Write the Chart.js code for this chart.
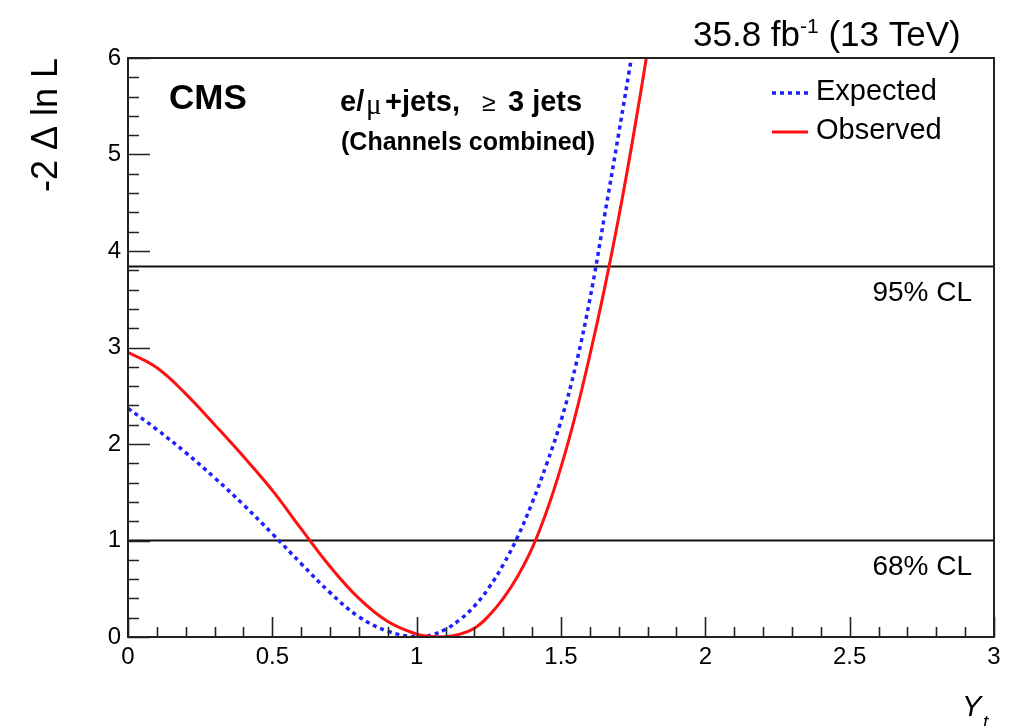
<!DOCTYPE html>
<html>
<head>
<meta charset="utf-8">
<script src="https://cdn.jsdelivr.net/npm/chart.js@4.4.1/dist/chart.umd.min.js"></script>
<style>
    html, body { margin: 0; padding: 0; background: #fff; }
    #wrap { width: 1009px; height: 726px; }
</style>
</head>
<body>
<div id="wrap"><canvas id="nllChart" width="1009" height="726"></canvas></div>
<script>
// Y_t scan, -2 Delta ln L
const yukawa = [0, 0.1, 0.2, 0.3, 0.4, 0.5, 0.6, 0.7, 0.8, 0.9, 1.0, 1.05, 1.1, 1.15, 1.2, 1.25,
    1.3, 1.35, 1.4, 1.45, 1.5, 1.55, 1.6, 1.65, 1.7, 1.75, 1.8];
const expected = [2.37, 2.15, 1.91, 1.65, 1.37, 1.07, 0.76, 0.46, 0.21, 0.06, 0.0, 0.02, 0.08, 0.18, 0.32, 0.51,
    0.75, 1.04, 1.39, 1.79, 2.24, 2.80, 3.50, 4.35, 5.22, 6.12, 7.1];
const observed = [2.95, 2.79, 2.52, 2.20, 1.87, 1.52, 1.12, 0.73, 0.40, 0.16, 0.03, 0.005, 0.003, 0.03, 0.09, 0.22,
    0.40, 0.63, 0.92, 1.30, 1.76, 2.30, 2.92, 3.60, 4.35, 5.18, 6.08];
const clLevels = [1.0, 3.84];
const clLabels = ["68% CL", "95% CL"];
const xTicks = [0, 0.5, 1, 1.5, 2, 2.5, 3];
const yTicks = [0, 1, 2, 3, 4, 5, 6];

const FONT = '"Liberation Sans", Arial, Helvetica, sans-serif';
const BLUE = "#1f1fff";
const RED = "#ff0f0f";

function pairs(xs, ys) {
    return xs.map((x, i) => ({ x, y: ys[i] }));
}

// ROOT style frame, inward ticks and all the annotation text
const rootDecor = {
    id: "rootDecor",
    afterDraw(chart) {
        const { ctx, chartArea: a, scales } = chart;
        const xs = scales.x, ys = scales.y;
        ctx.save();

        ctx.strokeStyle = "#222";
        ctx.lineWidth = 2;
        ctx.strokeRect(a.left, a.top, a.right - a.left, a.bottom - a.top);

        ctx.lineWidth = 1.6;
        ctx.beginPath();
        for (let i = 0; i <= 30; i++) {
            const px = Math.round(xs.getPixelForValue(i / 10)) + 0.5;
            const len = i % 5 === 0 ? 20 : 10;
            ctx.moveTo(px, a.bottom);
            ctx.lineTo(px, a.bottom - len);
        }
        for (let i = 0; i <= 30; i++) {
            const py = Math.round(ys.getPixelForValue(i / 5)) + 0.5;
            const len = i % 5 === 0 ? 22 : 11;
            ctx.moveTo(a.left, py);
            ctx.lineTo(a.left + len, py);
        }
        ctx.stroke();

        ctx.fillStyle = "#000";
        ctx.textBaseline = "middle";

        // CL labels
        ctx.font = "28px " + FONT;
        ctx.textAlign = "right";
        clLevels.forEach((lvl, i) => {
            ctx.fillText(clLabels[i], 972, ys.getPixelForValue(lvl) + 27);
        });

        // CMS + channel text
        ctx.textAlign = "left";
        ctx.font = "bold 35px " + FONT;
        ctx.fillText("CMS", 169, 99);

        const y1 = 103;
        ctx.font = "bold 29px " + FONT;
        ctx.fillText("e/", 340, y1);
        ctx.fillText("+jets,", 385, y1);
        ctx.fillText("3 jets", 508, y1);
        ctx.font = '29px "Liberation Serif", "Times New Roman", serif';
        ctx.fillText("\u03bc", 366, y1 + 3);
        ctx.font = "25px " + FONT;
        ctx.fillText("\u2265", 482, y1 + 1);

        ctx.font = "bold 25px " + FONT;
        ctx.fillText("(Channels combined)", 341, 143);

        // lumi label
        ctx.textBaseline = "alphabetic";
        let x = 693;
        const base = 46;
        ctx.font = "35px " + FONT;
        ctx.fillText("35.8 fb", x, base);
        x += ctx.measureText("35.8 fb").width;
        ctx.font = "21px " + FONT;
        ctx.fillText("-1", x, base - 13);
        x += ctx.measureText("-1").width;
        ctx.font = "35px " + FONT;
        ctx.fillText(" (13 TeV)", x, base);

        // legend
        ctx.textBaseline = "middle";
        ctx.font = "29px " + FONT;
        ctx.fillText("Expected", 816, 92);
        ctx.fillText("Observed", 816, 131);
        ctx.lineCap = "butt";
        ctx.strokeStyle = BLUE;
        ctx.lineWidth = 3.5;
        ctx.setLineDash([4, 4]);
        ctx.beginPath();
        ctx.moveTo(772, 93);
        ctx.lineTo(808, 93);
        ctx.stroke();
        ctx.setLineDash([]);
        ctx.strokeStyle = RED;
        ctx.lineWidth = 3;
        ctx.beginPath();
        ctx.moveTo(772, 132);
        ctx.lineTo(808, 132);
        ctx.stroke();

        // axis titles
        ctx.fillStyle = "#000";
        ctx.textAlign = "left";
        ctx.textBaseline = "alphabetic";
        ctx.font = "italic 29px " + FONT;
        ctx.fillText("Y", 962, 716);
        ctx.font = "italic 19px " + FONT;
        ctx.fillText("t", 983, 728);

        ctx.translate(47, 58);
        ctx.rotate(-Math.PI / 2);
        ctx.textAlign = "right";
        ctx.textBaseline = "middle";
        ctx.font = "36px " + FONT;
        ctx.fillText("-2 \u0394 ln L", 0, 0);

        ctx.restore();
    },
};

const datasets = [
    {
        label: "Observed",
        data: pairs(yukawa, observed),
        borderColor: RED,
        borderWidth: 3,
        pointRadius: 0,
        tension: 0.4,
        order: 0,
    },
    {
        label: "Expected",
        data: pairs(yukawa, expected),
        borderColor: BLUE,
        borderWidth: 3.5,
        borderDash: [4, 4],
        borderCapStyle: "butt",
        pointRadius: 0,
        tension: 0.4,
        order: 1,
    },
    ...clLevels.map((lvl, i) => ({
        label: clLabels[i],
        data: [{ x: 0, y: lvl }, { x: 3, y: lvl }],
        borderColor: "#111",
        borderWidth: 2,
        pointRadius: 0,
        order: 2,
    })),
];

new Chart(document.getElementById("nllChart"), {
    type: "line",
    data: { datasets },
    options: {
        responsive: false,
        animation: false,
        devicePixelRatio: 1,
        layout: { padding: { top: 58, right: 15, left: 0, bottom: 0 } },
        plugins: { legend: { display: false }, tooltip: { enabled: false } },
        scales: {
            x: {
                type: "linear",
                min: 0,
                max: 3,
                afterBuildTicks: (s) => { s.ticks = xTicks.map((v) => ({ value: v })); },
                afterFit: (s) => { s.height = 89; },
                grid: { display: false, drawTicks: false },
                border: { display: false },
                ticks: {
                    padding: 6,
                    maxRotation: 0,
                    color: "#000",
                    font: { family: FONT, size: 24 },
                    callback: (v) => String(v),
                },
            },
            y: {
                type: "linear",
                min: 0,
                max: 6,
                afterBuildTicks: (s) => { s.ticks = yTicks.map((v) => ({ value: v })); },
                afterFit: (s) => { s.width = 128; },
                grid: { display: false, drawTicks: false },
                border: { display: false },
                ticks: {
                    padding: 7,
                    color: "#000",
                    font: { family: FONT, size: 24 },
                    callback: (v) => String(v),
                },
            },
        },
    },
    plugins: [rootDecor],
});
</script>
</body>
</html>
